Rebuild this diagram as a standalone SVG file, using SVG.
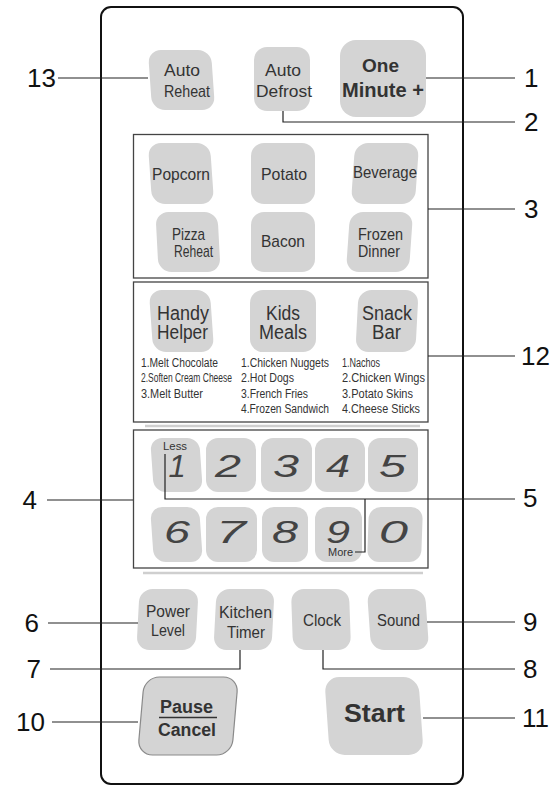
<svg xmlns="http://www.w3.org/2000/svg" width="551" height="787" viewBox="0 0 551 787">
<style>
.bg{fill:#ffffff}
.frame{fill:none;stroke:#111;stroke-width:2}
.box{fill:none;stroke:#444;stroke-width:1.3}
.sep{stroke:#cfcfcf;stroke-width:2.5}
.btn{fill:#d4d4d4}
.btnb{fill:#d4d4d4;stroke:#8a8a8a;stroke-width:1.2}
.t{font-family:"Liberation Sans Narrow","Liberation Sans",Arial,sans-serif;fill:#333;font-size:17px}
.tb{font-family:"Liberation Sans Narrow","Liberation Sans",Arial,sans-serif;fill:#333;font-weight:bold}
.h{font-size:20px}
.l{font-family:"Liberation Sans Narrow","Liberation Sans",Arial,sans-serif;fill:#333;font-size:12px}
.s{font-family:"Liberation Sans Narrow","Liberation Sans",Arial,sans-serif;fill:#333;font-size:10px}
.d{font-family:"Liberation Sans",Arial,sans-serif;fill:#444;font-size:31px;font-style:italic}
.n{font-family:"Liberation Sans",Arial,sans-serif;fill:#111;font-size:26px}
.ld{fill:none;stroke:#222;stroke-width:1.2}
</style>
<rect class="bg" x="0" y="0" width="551" height="787"/>
<rect id="panel" class="frame" x="101" y="7" width="362" height="777" rx="10"/>
<g id="sections">
<rect class="box" x="133.5" y="134.5" width="294.5" height="143.5"/>
<rect class="box" x="133.5" y="282" width="294.5" height="140"/>
<line class="sep" x1="145" y1="426" x2="420" y2="426"/>
<rect class="box" x="133.5" y="430" width="294.5" height="138"/>
<line class="sep" x1="143" y1="573" x2="423" y2="573"/>
</g>

<g id="btn-auto-reheat">
<rect class="btn" x="150" y="50" width="63" height="60" rx="13" transform="translate(181.5 80) skewX(4) translate(-181.5 -80)"/>
<text class="t" x="164" y="76" textLength="36" lengthAdjust="spacingAndGlyphs">Auto</text>
<text class="t" x="164" y="97" textLength="46" lengthAdjust="spacingAndGlyphs">Reheat</text>
</g>
<g id="btn-auto-defrost">
<rect class="btn" x="254" y="47" width="56" height="64" rx="13"/>
<text class="t" x="265" y="76" textLength="36" lengthAdjust="spacingAndGlyphs">Auto</text>
<text class="t" x="256" y="97" textLength="56" lengthAdjust="spacingAndGlyphs">Defrost</text>
</g>
<g id="btn-one-minute">
<rect class="btn" x="340" y="40" width="86" height="77" rx="16"/>
<text class="tb" x="362" y="72" font-size="19" textLength="37" lengthAdjust="spacingAndGlyphs">One</text>
<text class="tb" x="342" y="97" font-size="20" textLength="82" lengthAdjust="spacingAndGlyphs">Minute +</text>
</g>

<g id="btn-popcorn">
<rect class="btn" x="150" y="143" width="62" height="61" rx="13" transform="translate(181 173.5) skewX(4) translate(-181 -173.5)"/>
<text class="t" x="152" y="180" textLength="58" lengthAdjust="spacingAndGlyphs">Popcorn</text>
</g>
<g id="btn-potato">
<rect class="btn" x="251" y="143" width="64" height="61" rx="13"/>
<text class="t" x="261" y="180" textLength="46" lengthAdjust="spacingAndGlyphs">Potato</text>
</g>
<g id="btn-beverage">
<rect class="btn" x="353" y="143" width="64" height="61" rx="13" transform="translate(385 173.5) skewX(-4) translate(-385 -173.5)"/>
<text class="t" x="353" y="178" textLength="64" lengthAdjust="spacingAndGlyphs">Beverage</text>
</g>
<g id="btn-pizza-reheat">
<rect class="btn" x="157" y="212" width="62" height="60" rx="13" transform="translate(188 242) skewX(3) translate(-188 -242)"/>
<text class="t" x="172" y="240" font-size="16" textLength="33" lengthAdjust="spacingAndGlyphs">Pizza</text>
<text class="t" x="174" y="257" font-size="16" textLength="39" lengthAdjust="spacingAndGlyphs">Reheat</text>
</g>
<g id="btn-bacon">
<rect class="btn" x="251" y="212" width="64" height="60" rx="13"/>
<text class="t" x="261" y="247" textLength="44" lengthAdjust="spacingAndGlyphs">Bacon</text>
</g>
<g id="btn-frozen-dinner">
<rect class="btn" x="348" y="212" width="63" height="60" rx="13" transform="translate(379.5 242) skewX(-4) translate(-379.5 -242)"/>
<text class="t" x="358" y="240" font-size="16" textLength="45" lengthAdjust="spacingAndGlyphs">Frozen</text>
<text class="t" x="358" y="257" font-size="16" textLength="42" lengthAdjust="spacingAndGlyphs">Dinner</text>
</g>

<g id="btn-handy-helper">
<rect class="btn" x="151" y="290" width="61" height="62" rx="13" transform="translate(181.5 321) skewX(4) translate(-181.5 -321)"/>
<text class="t h" x="157" y="320" textLength="52" lengthAdjust="spacingAndGlyphs">Handy</text>
<text class="t h" x="157" y="339" textLength="51" lengthAdjust="spacingAndGlyphs">Helper</text>
<text class="l" x="141" y="367" textLength="77" lengthAdjust="spacingAndGlyphs">1.Melt Chocolate</text>
<text class="l" x="141" y="382" font-size="11" textLength="91" lengthAdjust="spacingAndGlyphs">2.Soften Cream Cheese</text>
<text class="l" x="141" y="398" textLength="62" lengthAdjust="spacingAndGlyphs">3.Melt Butter</text>
</g>
<g id="btn-kids-meals">
<rect class="btn" x="250" y="290" width="66" height="62" rx="13"/>
<text class="t h" x="266" y="320" textLength="34" lengthAdjust="spacingAndGlyphs">Kids</text>
<text class="t h" x="259" y="339" textLength="48" lengthAdjust="spacingAndGlyphs">Meals</text>
<text class="l" x="241" y="367" textLength="88" lengthAdjust="spacingAndGlyphs">1.Chicken Nuggets</text>
<text class="l" x="241" y="382" textLength="53" lengthAdjust="spacingAndGlyphs">2.Hot Dogs</text>
<text class="l" x="241" y="398" textLength="67" lengthAdjust="spacingAndGlyphs">3.French Fries</text>
<text class="l" x="241" y="413" textLength="88" lengthAdjust="spacingAndGlyphs">4.Frozen Sandwich</text>
</g>
<g id="btn-snack-bar">
<rect class="btn" x="357" y="290" width="60" height="62" rx="13" transform="translate(387 321) skewX(-3) translate(-387 -321)"/>
<text class="t h" x="362" y="320" textLength="50" lengthAdjust="spacingAndGlyphs">Snack</text>
<text class="t h" x="372" y="339" textLength="29" lengthAdjust="spacingAndGlyphs">Bar</text>
<text class="l" x="342" y="367" textLength="38" lengthAdjust="spacingAndGlyphs">1.Nachos</text>
<text class="l" x="342" y="382" textLength="83" lengthAdjust="spacingAndGlyphs">2.Chicken Wings</text>
<text class="l" x="342" y="398" textLength="71" lengthAdjust="spacingAndGlyphs">3.Potato Skins</text>
<text class="l" x="342" y="413" textLength="78" lengthAdjust="spacingAndGlyphs">4.Cheese Sticks</text>
</g>

<g id="btn-1">
<rect class="btn" x="152" y="438" width="49" height="54" rx="12" transform="translate(176.5 465) skewX(4) translate(-176.5 -465)"/>
<text class="s" x="163" y="450" textLength="24" lengthAdjust="spacingAndGlyphs">Less</text>
<text class="d" x="177" y="477" text-anchor="middle">1</text>
</g>
<g id="btn-2">
<rect class="btn" x="206" y="438" width="50" height="54" rx="12"/>
<text class="d" x="215" y="477" textLength="26" lengthAdjust="spacingAndGlyphs">2</text>
</g>
<g id="btn-3">
<rect class="btn" x="261" y="438" width="51" height="54" rx="12"/>
<text class="d" x="273" y="477" textLength="26" lengthAdjust="spacingAndGlyphs">3</text>
</g>
<g id="btn-4">
<rect class="btn" x="315" y="438" width="50" height="54" rx="12"/>
<text class="d" x="326" y="477" textLength="24" lengthAdjust="spacingAndGlyphs">4</text>
</g>
<g id="btn-5">
<rect class="btn" x="368" y="438" width="50" height="54" rx="12"/>
<text class="d" x="379" y="477" textLength="27" lengthAdjust="spacingAndGlyphs">5</text>
</g>
<g id="btn-6">
<rect class="btn" x="152" y="507" width="49" height="55" rx="12" transform="translate(176.5 534.5) skewX(4) translate(-176.5 -534.5)"/>
<text class="d" x="164" y="543" textLength="26" lengthAdjust="spacingAndGlyphs">6</text>
</g>
<g id="btn-7">
<rect class="btn" x="206" y="507" width="51" height="55" rx="12"/>
<text class="d" x="216" y="543" textLength="30" lengthAdjust="spacingAndGlyphs">7</text>
</g>
<g id="btn-8">
<rect class="btn" x="262" y="507" width="46" height="55" rx="12"/>
<text class="d" x="272" y="543" textLength="26" lengthAdjust="spacingAndGlyphs">8</text>
</g>
<g id="btn-9">
<rect class="btn" x="315" y="507" width="47" height="55" rx="12"/>
<text class="d" x="326" y="543" textLength="24" lengthAdjust="spacingAndGlyphs">9</text>
<text class="s" x="328" y="556" font-size="11" textLength="25" lengthAdjust="spacingAndGlyphs">More</text>
</g>
<g id="btn-0">
<rect class="btn" x="368" y="507" width="54" height="55" rx="12" transform="translate(395 534.5) skewX(-2) translate(-395 -534.5)"/>
<text class="d" x="379" y="543" textLength="29" lengthAdjust="spacingAndGlyphs">0</text>
</g>

<g id="btn-power-level">
<rect class="btn" x="138" y="589" width="59" height="61" rx="13" transform="translate(167.5 619.5) skewX(-3) translate(-167.5 -619.5)"/>
<text class="t" x="146" y="617" textLength="44" lengthAdjust="spacingAndGlyphs">Power</text>
<text class="t" x="151" y="636" textLength="34" lengthAdjust="spacingAndGlyphs">Level</text>
</g>
<g id="btn-kitchen-timer">
<rect class="btn" x="215" y="589" width="58" height="61" rx="13" transform="translate(244 619.5) skewX(-3) translate(-244 -619.5)"/>
<text class="t" x="219" y="618" textLength="53" lengthAdjust="spacingAndGlyphs">Kitchen</text>
<text class="t" x="227" y="638" textLength="38" lengthAdjust="spacingAndGlyphs">Timer</text>
</g>
<g id="btn-clock">
<rect class="btn" x="292" y="589" width="58" height="61" rx="13" transform="translate(321 619.5) skewX(2) translate(-321 -619.5)"/>
<text class="t" x="303" y="626" textLength="38" lengthAdjust="spacingAndGlyphs">Clock</text>
</g>
<g id="btn-sound">
<rect class="btn" x="369" y="589" width="58" height="61" rx="13" transform="translate(398 619.5) skewX(4) translate(-398 -619.5)"/>
<text class="t" x="377" y="626" textLength="43" lengthAdjust="spacingAndGlyphs">Sound</text>
</g>
<g id="btn-pause-cancel">
<rect class="btnb" x="141" y="677" width="94" height="78" rx="15" transform="translate(188 716) skewX(-5) translate(-188 -716)"/>
<text class="tb" x="160" y="713" font-size="18" textLength="53" lengthAdjust="spacingAndGlyphs">Pause</text>
<line x1="159" y1="717.5" x2="217" y2="717.5" stroke="#333" stroke-width="1.3"/>
<text class="tb" x="158" y="736" font-size="18" textLength="58" lengthAdjust="spacingAndGlyphs">Cancel</text>
</g>
<g id="btn-start">
<rect class="btn" x="327" y="677" width="94" height="78" rx="15" transform="translate(374 716) skewX(4) translate(-374 -716)"/>
<text class="tb" x="344" y="722" font-size="26" textLength="61" lengthAdjust="spacingAndGlyphs">Start</text>
</g>

<g id="connectors">
<path class="ld" d="M58 78H148"/>
<path class="ld" d="M426 78H515"/>
<path class="ld" d="M283 111V122H515"/>
<path class="ld" d="M428 209H515"/>
<path class="ld" d="M428 356H515"/>
<path class="ld" d="M47 500H133"/>
<path class="ld" d="M165 454V499H515"/>
<path class="ld" d="M355 552H365V499"/>
<path class="ld" d="M48 623H138"/>
<path class="ld" d="M427 622H515"/>
<path class="ld" d="M240 650V669H50"/>
<path class="ld" d="M323 650V669H515"/>
<path class="ld" d="M52 722H138"/>
<path class="ld" d="M423 718H515"/>
</g>

<g id="labels">
<text class="n" x="56" y="87" text-anchor="end">13</text>
<text class="n" x="524" y="87">1</text>
<text class="n" x="524" y="131">2</text>
<text class="n" x="524" y="218">3</text>
<text class="n" x="521" y="365">12</text>
<text class="n" x="37" y="509" text-anchor="end">4</text>
<text class="n" x="523" y="507">5</text>
<text class="n" x="39" y="632" text-anchor="end">6</text>
<text class="n" x="523" y="631">9</text>
<text class="n" x="41" y="678" text-anchor="end">7</text>
<text class="n" x="523" y="678">8</text>
<text class="n" x="45" y="731" text-anchor="end">10</text>
<text class="n" x="522" y="727">11</text>
</g>
</svg>
